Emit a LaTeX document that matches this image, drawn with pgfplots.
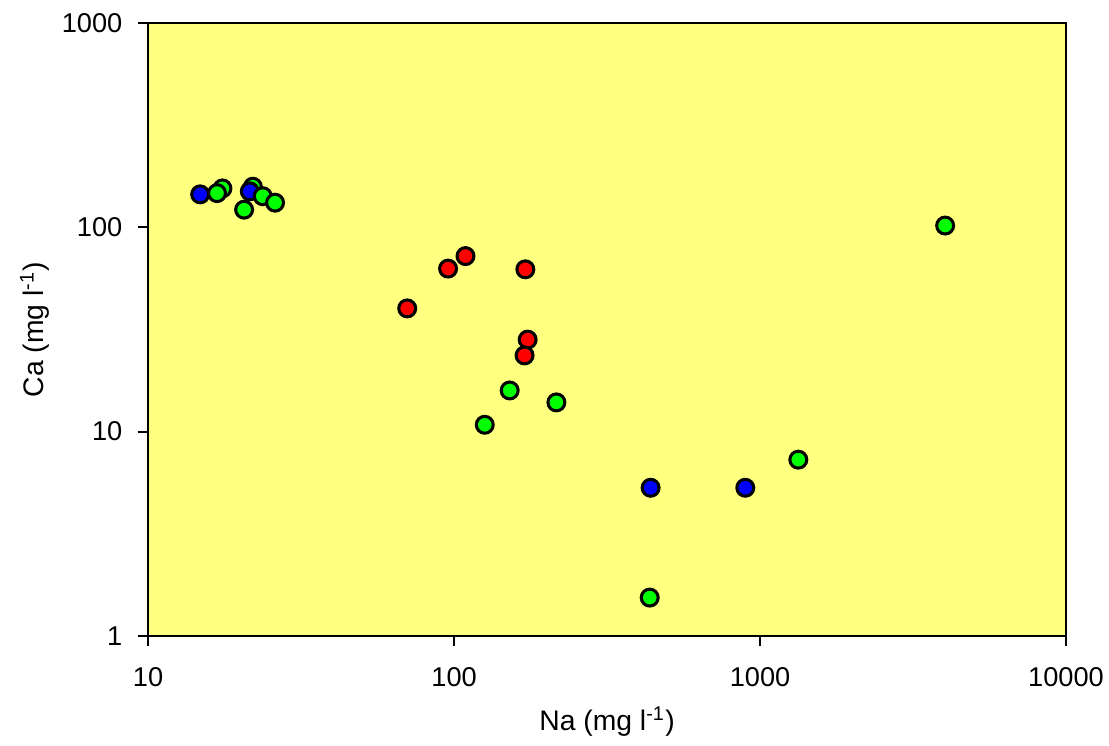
\documentclass[border=0pt]{standalone}
\usepackage{fontspec}
\setmainfont{Liberation Sans}
\usepackage{pgfplots}
\pgfplotsset{compat=1.18}
\definecolor{bgyellow}{RGB}{255,255,128}
\begin{document}
\begin{tikzpicture}
\useasboundingbox (-53.4pt,-39.4pt) rectangle (346.5pt,229.3pt);
\begin{axis}[
  at={(0,0)}, anchor=south west,
  scale only axis, width=331pt, height=221pt,
  xmode=log, ymode=log,
  xmin=10, xmax=10000, ymin=1, ymax=1000,
  xtick={10,100,1000,10000}, xticklabels={10,100,1000,10000},
  ytick={1,10,100,1000}, yticklabels={1,10,100,1000},
  xminorticks=false, yminorticks=false,
  tick align=outside, tick pos=left,
  major tick length=3.8pt,
  tick style={black, line width=0.75pt},
  axis line style={black, line width=0.75pt},
  axis background/.style={fill=bgyellow},
  every tick label/.append style={font=\fontsize{9.8}{11}\selectfont},
  /pgf/number format/assume math mode=true,
  xticklabel style={yshift=-4pt},
  yticklabel style={xshift=-2pt},
  xlabel={Na (mg l\textsuperscript{-1})},
  ylabel={Ca (mg l\textsuperscript{-1})},
  label style={font=\fontsize{10.2}{12}\selectfont},
  xlabel style={at={(axis description cs:0.5,-0.1403)}, anchor=center},
  ylabel style={at={(axis description cs:-0.1233,0.5)}, anchor=center},
  clip=false,
]
% green points (background in cluster)
\addplot[only marks, mark=*, mark size=3.05pt, mark options={fill=green, draw=black, line width=1.1pt}]
coordinates {(17.5,155) (22.0,158)};
% blue points
\addplot[only marks, mark=*, mark size=3.05pt, mark options={fill=blue, draw=black, line width=1.1pt}]
coordinates {(14.8,145) (21.5,150) (439,5.31) (895,5.31)};
% green points
\addplot[only marks, mark=*, mark size=3.05pt, mark options={fill=green, draw=black, line width=1.1pt}]
coordinates {(16.8,147) (23.7,142) (26.0,132) (20.6,122)
(152,15.9) (126,10.8) (216,13.9) (1334,7.29) (436,1.54) (4027,102)};
% red points
\addplot[only marks, mark=*, mark size=3.05pt, mark options={fill=red, draw=black, line width=1.1pt}]
coordinates {(70.3,40.1) (95.6,62.8) (109,72.3) (171,62.3) (174,28.2) (170,23.6)};
\end{axis}
\end{tikzpicture}
\end{document}
